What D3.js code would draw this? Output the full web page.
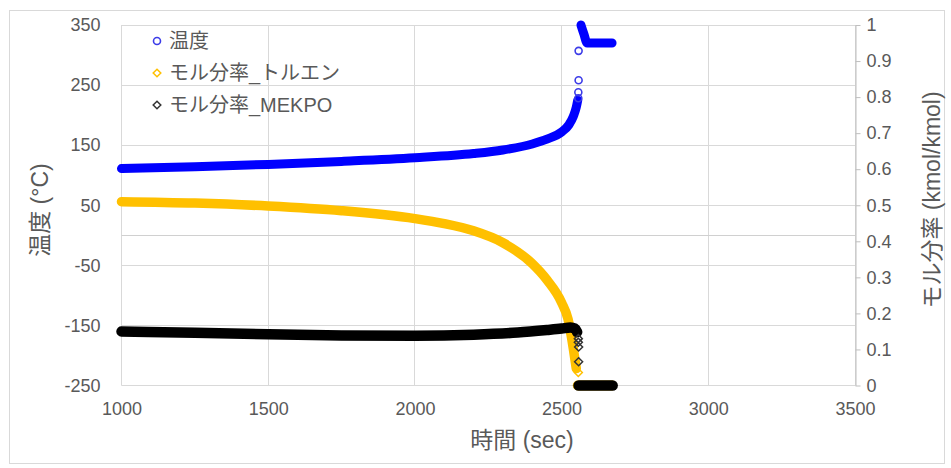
<!DOCTYPE html>
<html>
<head>
<meta charset="utf-8">
<script src="https://cdn.jsdelivr.net/npm/d3@7"></script>
<style>
  html, body { margin: 0; padding: 0; background: #fff; }
  svg text { font-family: "Liberation Sans", Arial, "Noto Sans CJK JP", sans-serif; fill: #595959; }
</style>
</head>
<body>
<svg id="chart" width="951" height="468"></svg>
<script>
// ---- axes ----
const timeTicks = [1000, 1500, 2000, 2500, 3000, 3500];
const tempTicks = [-250, -150, -50, 50, 150, 250, 350];
const fracTicks = [0, 0.1, 0.2, 0.3, 0.4, 0.5, 0.6, 0.7, 0.8, 0.9, 1];

// ---- 温度 (°C), left axis ----
const tempTime = [1000, 1250, 1500, 1750, 2000, 2200, 2300, 2400, 2450, 2500, 2525, 2540, 2550, 2555];
const tempC    = [111, 114, 118, 123, 129, 136, 142, 152, 160, 172, 184, 198, 213, 225];
// isolated samples during the runaway
const tempJumpTime = [2557, 2557, 2558, 2558];
const tempJumpC    = [228, 238, 258, 307];
// after the peak
const tempPeakTime = [2566, 2576, 2587, 2630, 2672];
const tempPeakC    = [350, 335, 320, 320, 320];

// ---- モル分率_トルエン, right axis ----
const toluTime = [1000, 1250, 1500, 1750, 2000, 2100, 2200, 2300, 2400, 2450, 2500, 2522, 2540, 2550];
const toluFrac = [0.510, 0.506, 0.498, 0.485, 0.463, 0.449, 0.429, 0.396, 0.338, 0.293, 0.230, 0.184, 0.102, 0.047];
const toluJumpTime = [2557];
const toluJumpFrac = [0.036];
const toluEndTime = [2555, 2672];
const toluEndFrac = [0, 0];

// ---- モル分率_MEKPO, right axis ----
const mekTime = [1000, 1250, 1500, 1750, 2000, 2200, 2350, 2450, 2500, 2530, 2545, 2553];
const mekFrac = [0.150, 0.146, 0.142, 0.139, 0.138, 0.141, 0.147, 0.154, 0.158, 0.161, 0.158, 0.148];
const mekJumpTime = [2557, 2557, 2558, 2558];
const mekJumpFrac = [0.130, 0.120, 0.107, 0.066];
const mekEndTime = [2558, 2674];
const mekEndFrac = [0, 0];

const legendLabels = ["温度", "モル分率_トルエン", "モル分率_MEKPO"];
const colors = { temp: "#0000ff", tempMarker: "#3c3ce8", tolu: "#ffc000", mek: "#000000" };

// ---- layout ----
const plot = { left: 121.5, right: 855, top: 25, bottom: 385.5 };

const svg = d3.select("#chart");
svg.append("rect").attr("x", 9.5).attr("y", 10.5).attr("width", 935).attr("height", 453)
  .attr("fill", "#fff").attr("stroke", "#d9d9d9");

const x  = d3.scaleLinear().domain([1000, 3500]).range([plot.left, plot.right]);
const yL = d3.scaleLinear().domain([-250, 350]).range([plot.bottom, plot.top]);
const yR = d3.scaleLinear().domain([0, 1]).range([plot.bottom, plot.top]);
const snap = v => Math.round(v - 0.5) + 0.5;
const plain = d => String(d);

// gridlines
const grid = svg.append("g").attr("stroke", "#d9d9d9").attr("stroke-width", 1);
grid.selectAll("line.h").data(tempTicks).join("line")
  .attr("x1", plot.left).attr("x2", plot.right)
  .attr("y1", d => snap(yL(d))).attr("y2", d => snap(yL(d)));
grid.selectAll("line.v").data(timeTicks).join("line")
  .attr("y1", plot.top).attr("y2", plot.bottom)
  .attr("x1", d => snap(x(d))).attr("x2", d => snap(x(d)));
// horizontal axis line crossing at 0 °C
svg.append("line").attr("x1", plot.left).attr("x2", plot.right)
  .attr("y1", snap(yL(0))).attr("y2", snap(yL(0))).attr("stroke", "#d0d0d0");

// axes
const axL = svg.append("g").attr("transform", `translate(${plot.left},0)`)
  .call(d3.axisLeft(yL).tickValues(tempTicks).tickSize(0).tickPadding(21).tickFormat(plain));
const axB = svg.append("g").attr("transform", `translate(0,${plot.bottom})`)
  .call(d3.axisBottom(x).tickValues(timeTicks).tickSize(0).tickPadding(17).tickFormat(plain));
const axR = svg.append("g").attr("transform", `translate(${snap(plot.right)},0)`)
  .call(d3.axisRight(yR).tickValues(fracTicks).tickSize(5).tickPadding(6)
        .tickFormat(plain).tickSizeOuter(0));
[axL, axB].forEach(a => a.select(".domain").remove());
axR.select(".domain").attr("stroke", "#bfbfbf");
axR.selectAll(".tick line").attr("stroke", "#bfbfbf");
[axL, axB, axR].forEach(a => a.selectAll("text").attr("font-size", 18).attr("fill", "#595959")
  .style("font-family", '"Liberation Sans", Arial, sans-serif'));

// axis titles
svg.append("text").attr("transform", "translate(40,210) rotate(-90)")
  .attr("text-anchor", "middle").attr("dominant-baseline", "central")
  .attr("font-size", 23).text("温度 (°C)");
svg.append("text").attr("transform", "translate(932,200) rotate(-90)")
  .attr("text-anchor", "middle").attr("dominant-baseline", "central")
  .attr("font-size", 23).text("モル分率 (kmol/kmol)");
svg.append("text").attr("x", 522).attr("y", 440)
  .attr("text-anchor", "middle").attr("dominant-baseline", "central")
  .attr("font-size", 23).text("時間 (sec)");

// ---- series ----
const pairs = (ts, vs) => ts.map((t, i) => [t, vs[i]]);
const diamond = r => `M0,${-r}L${r},0L0,${r}L${-r},0Z`;

function trace(ts, vs, yScale, color, width) {
  svg.append("path").datum(pairs(ts, vs))
    .attr("fill", "none").attr("stroke", color).attr("stroke-width", width)
    .attr("stroke-linecap", "round").attr("stroke-linejoin", "round")
    .attr("d", d3.line().x(d => x(d[0])).y(d => yScale(d[1])).curve(d3.curveMonotoneX));
}
function circles(ts, vs, yScale, color) {
  svg.append("g").selectAll("circle").data(pairs(ts, vs)).join("circle")
    .attr("cx", d => x(d[0])).attr("cy", d => yScale(d[1])).attr("r", 3.5)
    .attr("fill", "none").attr("stroke", color).attr("stroke-width", 1.6);
}
function diamonds(ts, vs, yScale, color) {
  svg.append("g").selectAll("path").data(pairs(ts, vs)).join("path")
    .attr("transform", d => `translate(${x(d[0])},${yScale(d[1])})`)
    .attr("d", diamond(4))
    .attr("fill", "none").attr("stroke", color).attr("stroke-width", 1.5);
}

// temperature
trace(tempTime, tempC, yL, colors.temp, 9);
circles(tempJumpTime, tempJumpC, yL, colors.tempMarker);
trace(tempPeakTime, tempPeakC, yL, colors.temp, 9);

// toluene
trace(toluTime, toluFrac, yR, colors.tolu, 9.5);
diamonds(toluJumpTime, toluJumpFrac, yR, colors.tolu);
trace(toluEndTime, toluEndFrac, yR, colors.tolu, 10);

// MEKPO
trace(mekTime, mekFrac, yR, colors.mek, 10.5);
diamonds(mekJumpTime, mekJumpFrac, yR, "#333");
trace(mekEndTime, mekEndFrac, yR, colors.mek, 10.5);

// ---- legend ----
const legend = svg.append("g").attr("transform", "translate(157,41)");
const rowGap = 32;
legendLabels.forEach((label, i) => {
  const g = legend.append("g").attr("transform", `translate(0,${i * rowGap})`);
  if (i === 0) {
    g.append("circle").attr("r", 3.5).attr("fill", "none")
      .attr("stroke", colors.tempMarker).attr("stroke-width", 1.6);
  } else {
    g.append("path").attr("d", diamond(3.8)).attr("fill", "none")
      .attr("stroke", i === 1 ? colors.tolu : "#333").attr("stroke-width", 1.5);
  }
  g.append("text").attr("x", 12).attr("dominant-baseline", "central")
    .attr("font-size", 20).text(label);
});
</script>
</body>
</html>
